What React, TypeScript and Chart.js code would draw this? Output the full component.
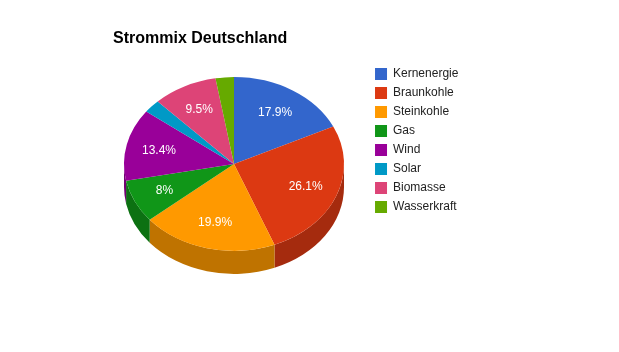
import React, { useEffect, useRef } from 'react';
import { Chart, registerables, layouts } from 'chart.js';

Chart.register(...registerables);

const TITLE = 'Strommix Deutschland';
const categories = ['Kernenergie', 'Braunkohle', 'Steinkohle', 'Gas', 'Wind', 'Solar', 'Biomasse', 'Wasserkraft'];
const shares = [17.9, 26.1, 19.9, 8, 13.4, 2.5, 9.5, 2.7];
const colors = ['#3366CC', '#DC3912', '#FF9900', '#109618', '#990099', '#0099C6', '#DD4477', '#66AA00'];

const FONT = 'Arial, "Liberation Sans", sans-serif';
const TILT = 0.79;
const DEPTH = 23;
const SIDE_SHADE = 0.75;
const LABEL_RADIUS = 0.7;
const LABEL_MIN_PCT = 5;

function shade(hex: string, f: number) {
  const n = parseInt(hex.slice(1), 16);
  const r = Math.round(((n >> 16) & 255) * f);
  const g = Math.round(((n >> 8) & 255) * f);
  const b = Math.round((n & 255) * f);
  return `rgb(${r},${g},${b})`;
}

function fmtPct(p: number) {
  const v = Math.round(p * 10) / 10;
  return `${v}%`;
}

const legendGapPlugin = {
  id: 'legendGap',
  beforeInit(chart: any, _args: any, opts: any) {
    const box: any = {
      position: 'right',
      weight: 100,
      fullSize: false,
      options: { display: false },
      top: 0, left: 0, right: 0, bottom: 0, width: 0, height: 0,
      isHorizontal() { return false; },
      update(_maxWidth: number, maxHeight: number) {
        this.width = opts.width || 0;
        this.height = maxHeight;
      },
      getPadding() { return { top: 0, left: 0, right: 0, bottom: 0 }; },
      draw() {},
    };
    layouts.addBox(chart, box);
  },
};

const pie3dPlugin = {
  id: 'pie3d',
  beforeDatasetsDraw(chart: any) {
    const meta = chart.getDatasetMeta(0);
    const arcs = meta.data;
    const ctx = chart.ctx as CanvasRenderingContext2D;
    ctx.save();
    chart.$pie3dSaved = true;
    if (!arcs.length) return;
    const { x: cx, y: cy, outerRadius: r } = arcs[0];
    arcs.forEach((arc: any, i: number) => {
      const a0 = Math.max(arc.startAngle, 0);
      const a1 = Math.min(arc.endAngle, Math.PI);
      if (a1 <= a0) return;
      ctx.beginPath();
      ctx.ellipse(cx, cy, r, r * TILT, 0, a0, a1, false);
      ctx.ellipse(cx, cy + DEPTH, r, r * TILT, 0, a1, a0, true);
      ctx.closePath();
      ctx.fillStyle = shade(colors[i], SIDE_SHADE);
      ctx.fill();
    });
    ctx.translate(cx, cy);
    ctx.scale(1, TILT);
    ctx.translate(-cx, -cy);
  },
  afterDatasetsDraw(chart: any) {
    const ctx = chart.ctx as CanvasRenderingContext2D;
    if (chart.$pie3dSaved) {
      ctx.restore();
      chart.$pie3dSaved = false;
    }
    const meta = chart.getDatasetMeta(0);
    const arcs = meta.data;
    if (!arcs.length) return;
    const total = shares.reduce((a, b) => a + b, 0);
    ctx.save();
    ctx.fillStyle = '#ffffff';
    ctx.font = `12px ${FONT}`;
    ctx.textAlign = 'center';
    ctx.textBaseline = 'middle';
    arcs.forEach((arc: any, i: number) => {
      const pct = (shares[i] / total) * 100;
      if (pct < LABEL_MIN_PCT) return;
      const mid = (arc.startAngle + arc.endAngle) / 2;
      const rr = arc.outerRadius * LABEL_RADIUS;
      const x = arc.x + Math.cos(mid) * rr;
      const y = arc.y + Math.sin(mid) * rr * TILT;
      ctx.fillText(fmtPct(pct), x, y);
    });
    ctx.restore();
  },
};

export default function App() {
  const ref = useRef<HTMLCanvasElement>(null);
  useEffect(() => {
    if (!ref.current) return;
    const chart = new Chart(ref.current, {
      type: 'pie',
      data: {
        labels: categories,
        datasets: [
          {
            data: shares,
            backgroundColor: colors,
            borderWidth: 0,
            clip: false as any,
          },
        ],
      },
      options: {
        animation: false,
        responsive: false,
        maintainAspectRatio: false,
        devicePixelRatio: 1,
        layout: { padding: { left: 113, right: 150.6, top: 0, bottom: 78 } },
        plugins: {
          title: {
            display: true,
            text: TITLE,
            align: 'start',
            color: '#000000',
            font: { family: FONT, size: 16, weight: 'bold', lineHeight: 1.2 },
            padding: { top: 28.9, bottom: 5.9 },
          },
          legend: {
            display: true,
            position: 'right',
            align: 'start',
            fullSize: false,
            title: { display: true, text: '', padding: 0, font: { size: 7, lineHeight: 1 } },
            labels: {
              boxWidth: 12,
              boxHeight: 12,
              padding: 7,
              color: '#222222',
              font: { family: FONT, size: 12 },
            },
          },
          tooltip: { enabled: false },
          legendGap: { width: 13 },
        } as any,
      },
      plugins: [legendGapPlugin, pie3dPlugin],
    });
    return () => chart.destroy();
  }, []);
  return (
    <div style={{ position: 'fixed', left: 0, top: 0, width: 619, height: 352, background: '#ffffff' }}>
      <canvas ref={ref} width={619} height={352} style={{ display: 'block', width: 619, height: 352 }} />
    </div>
  );
}
